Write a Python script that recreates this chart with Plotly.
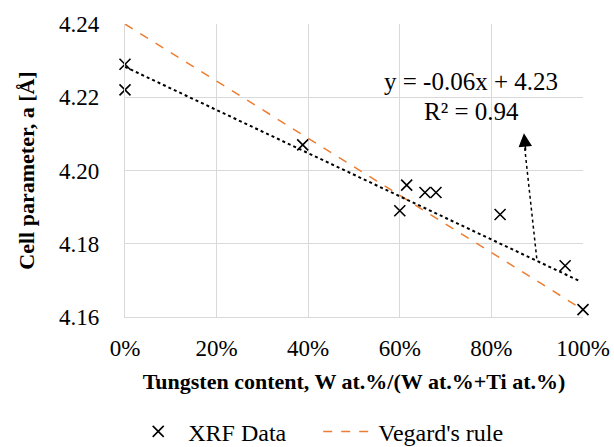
import plotly.graph_objects as go

# Data
w_content = [0.0, 0.0, 0.388, 0.600, 0.615, 0.655, 0.679, 0.819, 0.961, 1.0]
cell_param = [4.229, 4.222, 4.207, 4.189, 4.196, 4.194, 4.194, 4.188, 4.174, 4.162]

vegard_x = [0.0, 1.0]
vegard_y = [4.240, 4.162]

# linear trendline (y = -0.06x + 4.23) as drawn in the reference
trend_x = [0.0, 0.993]
trend_y = [4.2283, 4.1698]

x_ticks = [0, 0.2, 0.4, 0.6, 0.8, 1.0]
y_ticks = [4.16, 4.18, 4.20, 4.22, 4.24]

eq_text = ["y = -0.06x + 4.23", "R² = 0.94"]

FONT = "Times New Roman, Liberation Serif, serif"

fig = go.Figure()
fig.add_trace(go.Scatter(
    x=vegard_x, y=vegard_y, mode="lines", name="Vegard's rule",
    line=dict(color="#ED7D31", width=1.5, dash="dash"), cliponaxis=False,
))
fig.add_trace(go.Scatter(
    x=trend_x, y=trend_y, mode="lines", showlegend=False,
    line=dict(color="black", width=2, dash="dot"), cliponaxis=False,
))
fig.add_trace(go.Scatter(
    x=w_content, y=cell_param, mode="markers", name="XRF Data",
    marker=dict(symbol="x-thin", size=11, line=dict(color="black", width=1.6), color="black"),
    cliponaxis=False,
))

# arrow: dotted shaft + solid head
arrow_tail = (0.899, 4.176)
arrow_tip = (0.871, 4.2102)
fig.add_trace(go.Scatter(
    x=[arrow_tail[0], arrow_tip[0]], y=[arrow_tail[1], arrow_tip[1] - 0.002], mode="lines",
    showlegend=False, line=dict(color="black", width=1.5, dash="dot"),
))
fig.add_annotation(x=arrow_tip[0], y=arrow_tip[1],
                   ax=arrow_tip[0] + (arrow_tail[0] - arrow_tip[0]) * 0.15,
                   ay=arrow_tip[1] + (arrow_tail[1] - arrow_tip[1]) * 0.15,
                   xref="x", yref="y", axref="x", ayref="y",
                   text="", showarrow=True, arrowhead=2, arrowsize=1.8, arrowwidth=1.5,
                   arrowcolor="black")

fig.add_annotation(x=0.756, y=4.2243, xref="x", yref="y", text=eq_text[0],
                   showarrow=False, font=dict(family=FONT, size=25, color="black"))
fig.add_annotation(x=0.756, y=4.2160, xref="x", yref="y", text=eq_text[1],
                   showarrow=False, font=dict(family=FONT, size=25, color="black"))

fig.update_layout(
    width=614, height=447,
    margin=dict(l=125, r=31, t=24, b=130, autoexpand=False),
    paper_bgcolor="white", plot_bgcolor="white",
    font=dict(family=FONT, size=22, color="black"),
    showlegend=True,
    legend=dict(orientation="h", x=0.007, xanchor="left", y=-0.315, yanchor="top",
                itemwidth=50, entrywidth=125,
                font=dict(family=FONT, size=24, color="black"), traceorder="reversed",
                bgcolor="rgba(0,0,0,0)"),
    xaxis=dict(range=[0, 1], tickvals=x_ticks, tickformat=".0%", showgrid=True,
               gridcolor="#D9D9D9", gridwidth=1.3, showline=True, linecolor="#D9D9D9", linewidth=1.3,
               zeroline=False, ticks="", ticklabelstandoff=10, automargin=False,
               tickfont=dict(family=FONT, size=23),
               title=dict(text="<b>Tungsten content, W at.%/(W at.%+Ti at.%)</b>",
                          font=dict(family=FONT, size=22), standoff=13)),
    yaxis=dict(range=[4.16, 4.24], tickvals=y_ticks, tickformat=".2f", showgrid=True,
               gridcolor="#D9D9D9", gridwidth=1.3, showline=True, linecolor="#D9D9D9", linewidth=1.3,
               zeroline=False, ticks="", ticklabelstandoff=20, automargin=False,
               tickfont=dict(family=FONT, size=23),
               title=dict(text="<b>Cell parameter, a [Å]</b>",
                          font=dict(family=FONT, size=22), standoff=18)),
)

fig.write_html("out.html")
